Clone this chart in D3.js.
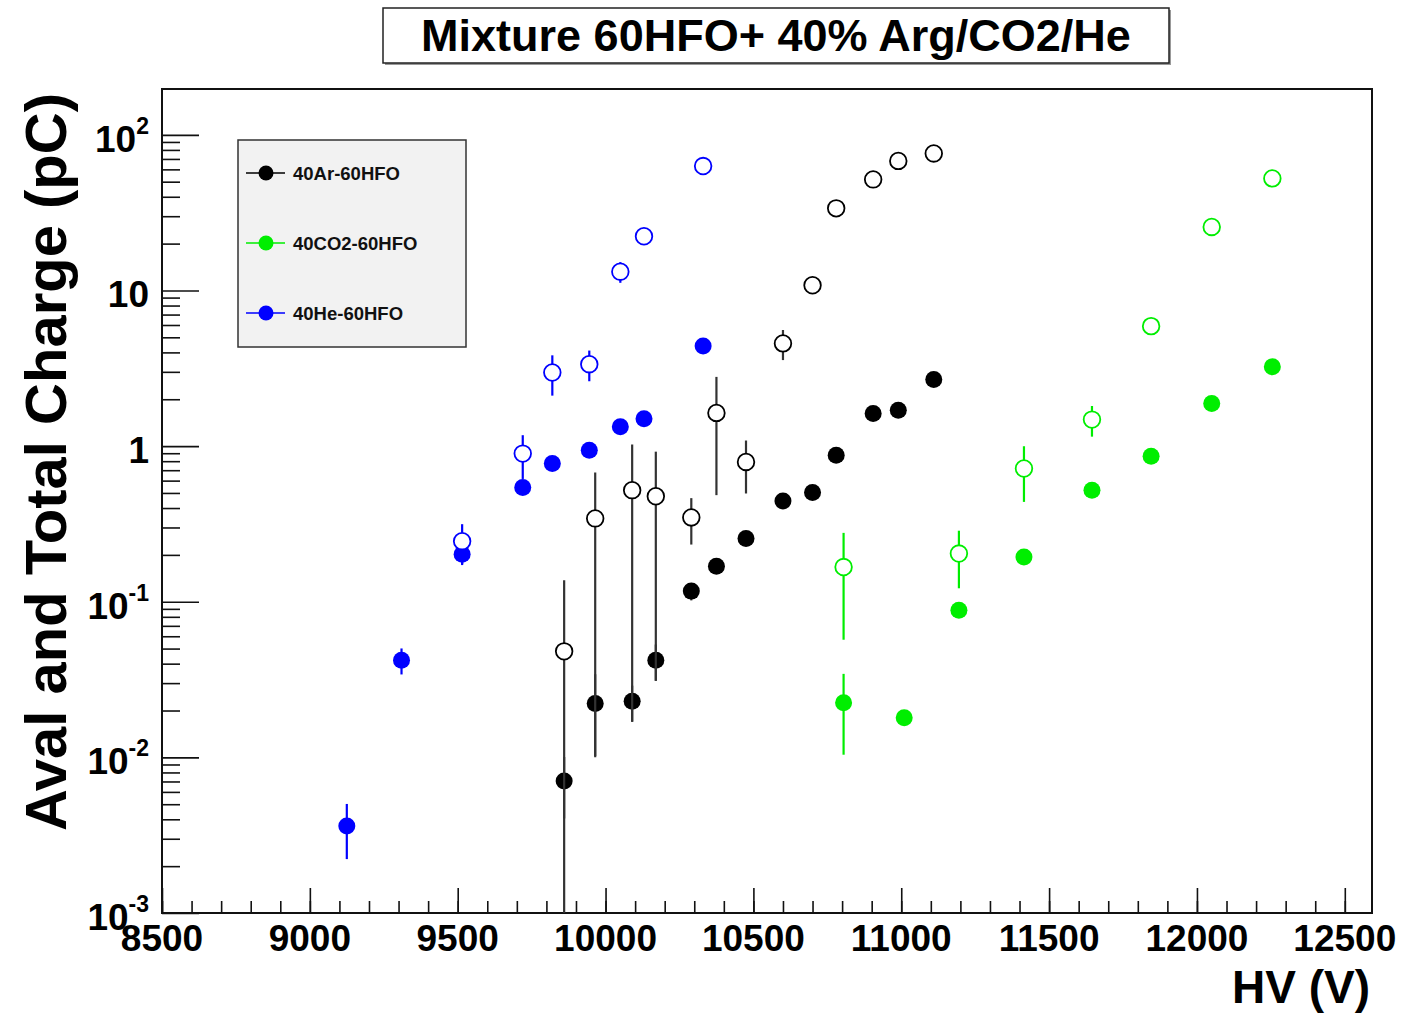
<!DOCTYPE html>
<html lang="en">
<head>
    <meta charset="UTF-8">
    <title>Mixture 60HFO+ 40% Arg/CO2/He</title>
    <script src="https://d3js.org/d3.v7.min.js"></script>
    <style>
        body { margin: 0; background: #fff; }
        text { font-family: "Liberation Sans", Arial, Helvetica, sans-serif; font-weight: bold; }
    </style>
</head>
<body>
    <svg></svg>

    <script>
        const w = 1402;
        const h = 1015;

        // 40Ar-60HFO (black)
        const arHV = [9860, 9965, 10090, 10170, 10290, 10375, 10475, 10600, 10700, 10780, 10905, 10990, 11110];
        const arAval = [0.00705, 0.0222, 0.0229, 0.0421, 0.117, 0.169, 0.255, 0.444, 0.503, 0.874, 1.62, 1.70, 2.68];
        const arAvalErr = [0.003, 0.012, 0.006, 0.011, 0.015, 0.012, 0.015, 0.02, 0.03, 0.05, 0.08, 0.08, 0.12];
        const arTotal = [0.048, 0.343, 0.521, 0.476, 0.348, 1.634, 0.791, 4.57, 10.8, 33.7, 51.7, 68, 75.9];
        const arTotalErr = [0.0895, 0.333, 0.504, 0.445, 0.115, 1.15, 0.295, 1.0, 0.8, 2, 3, 3, 3];

        // 40CO2-60HFO (green)
        const co2HV = [10805, 11010, 11195, 11415, 11645, 11845, 12050, 12255];
        const co2Aval = [0.0224, 0.018, 0.0882, 0.194, 0.521, 0.861, 1.88, 3.23];
        const co2AvalErr = [0.012, 0.002, 0.008, 0.015, 0.04, 0.05, 0.1, 0.15];
        const co2TotalHV = [10805, 11195, 11415, 11645, 11845, 12050, 12255];
        const co2Total = [0.167, 0.204, 0.718, 1.48, 5.9, 25.6, 52.5];
        const co2TotalErr = [0.11, 0.082, 0.28, 0.33, 0.5, 1.5, 2.5];

        // 40He-60HFO (blue)
        const heHV = [9125, 9310, 9515, 9720, 9820, 9945, 10050, 10130, 10330];
        const heAval = [0.00362, 0.0421, 0.202, 0.542, 0.773, 0.94, 1.33, 1.50, 4.39];
        const heAvalErr = [0.0014, 0.008, 0.03, 0.05, 0.05, 0.06, 0.08, 0.08, 0.3];
        const heTotalHV = [9515, 9720, 9820, 9945, 10050, 10130, 10330];
        const heTotal = [0.245, 0.895, 2.97, 3.36, 13.2, 22.3, 63];
        const heTotalErr = [0.07, 0.28, 0.86, 0.75, 2, 2, 4];

        const xMajor = d3.range(8500, 12501, 500);
        const xMinor = d3.range(8500, 12591, 100);
        const yExp = [-3, -2, -1, 0, 1, 2];

        const legendLabels = ["40Ar-60HFO", "40CO2-60HFO", "40He-60HFO"];
        const colors = ["#000000", "#00ee00", "#0000ff"];

        const series = [
            { hv: arHV, v: arAval, e: arAvalErr, c: 0, open: false },
            { hv: arHV, v: arTotal, e: arTotalErr, c: 0, open: true },
            { hv: co2HV, v: co2Aval, e: co2AvalErr, c: 1, open: false },
            { hv: co2TotalHV, v: co2Total, e: co2TotalErr, c: 1, open: true },
            { hv: heHV, v: heAval, e: heAvalErr, c: 2, open: false },
            { hv: heTotalHV, v: heTotal, e: heTotalErr, c: 2, open: true }
        ];

        const L = 162, R = 1372, T = 89, B = 913;

        const svg = d3.select("svg")
            .attr("width", w)
            .attr("height", h);

        const x = d3.scaleLinear().domain([8500, 12592]).range([L, R]);
        const y = d3.scaleLog().domain([1e-3, 197]).range([B, T]);

        // title box
        svg.append("rect")
            .attr("x", 385).attr("y", 10).attr("width", 786).attr("height", 55)
            .attr("fill", "#999");
        svg.append("rect")
            .attr("x", 383).attr("y", 8).attr("width", 786).attr("height", 55)
            .attr("fill", "#fff").attr("stroke", "#222").attr("stroke-width", 1.5);
        svg.append("text")
            .attr("x", 776).attr("y", 51)
            .attr("text-anchor", "middle")
            .attr("font-size", 45)
            .text("Mixture 60HFO+ 40% Arg/CO2/He");

        // x axis ticks
        svg.append("g")
            .attr("transform", `translate(0,${B})`)
            .call(d3.axisBottom(x).tickValues(xMinor).tickSize(-12).tickFormat(""))
            .call(g => g.select(".domain").remove())
            .call(g => g.selectAll("line").attr("stroke", "#111").attr("stroke-width", 1.6));

        svg.append("g")
            .attr("transform", `translate(0,${B})`)
            .call(d3.axisBottom(x).tickValues(xMajor).tickSize(-25).tickFormat(""))
            .call(g => g.select(".domain").remove())
            .call(g => g.selectAll("line").attr("stroke", "#111").attr("stroke-width", 1.6));

        svg.append("g")
            .selectAll("text")
            .data(xMajor)
            .join("text")
                .attr("x", d => x(d))
                .attr("y", 951)
                .attr("text-anchor", "middle")
                .attr("font-size", 37)
                .text(d => d);

        // y axis ticks
        const yMinor = [];
        yExp.forEach(p => {
            for (let k = 2; k <= 9; k++) {
                const v = k * Math.pow(10, p);
                if (v < 197) yMinor.push(v);
            }
        });
        const yMajor = yExp.map(p => Math.pow(10, p));

        svg.append("g")
            .attr("transform", `translate(${L},0)`)
            .call(d3.axisLeft(y).tickValues(yMinor).tickSize(-18).tickFormat(""))
            .call(g => g.select(".domain").remove())
            .call(g => g.selectAll("line").attr("stroke", "#111").attr("stroke-width", 1.6));

        svg.append("g")
            .attr("transform", `translate(${L},0)`)
            .call(d3.axisLeft(y).tickValues(yMajor).tickSize(-37).tickFormat(""))
            .call(g => g.select(".domain").remove())
            .call(g => g.selectAll("line").attr("stroke", "#111").attr("stroke-width", 1.6));

        const yl = svg.append("g")
            .selectAll("text")
            .data(yExp)
            .join("text")
                .attr("x", 149)
                .attr("y", p => y(Math.pow(10, p)) + 17)
                .attr("text-anchor", "end")
                .attr("font-size", 37);
        yl.each(function(p) {
            const t = d3.select(this);
            if (p === 0) { t.text("1"); return; }
            if (p === 1) { t.text("10"); return; }
            t.append("tspan").text("10");
            t.append("tspan").attr("dy", -18).attr("font-size", 23).text(p);
        });

        // frame
        svg.append("rect")
            .attr("x", L).attr("y", T).attr("width", R - L).attr("height", B - T)
            .attr("fill", "none").attr("stroke", "#111").attr("stroke-width", 2);

        // axis titles
        svg.append("text")
            .attr("transform", "translate(66,462) rotate(-90)")
            .attr("text-anchor", "middle")
            .attr("font-size", 58)
            .text("Aval and Total Charge (pC)");

        svg.append("text")
            .attr("x", 1370).attr("y", 1003)
            .attr("text-anchor", "end")
            .attr("font-size", 46)
            .text("HV (V)");

        // data
        svg.append("defs").append("clipPath").attr("id", "plot")
            .append("rect").attr("x", L).attr("y", T).attr("width", R - L).attr("height", B - T);

        const plot = svg.append("g").attr("clip-path", "url(#plot)");

        series.forEach(s => {
            const pts = s.hv.map((hv, i) => ({ hv: hv, v: s.v[i], e: s.e[i] }));
            const col = colors[s.c];
            const g = plot.append("g");
            g.selectAll("line")
                .data(pts)
                .join("line")
                    .attr("x1", d => x(d.hv))
                    .attr("x2", d => x(d.hv))
                    .attr("y1", d => y(d.v + d.e))
                    .attr("y2", d => d.v - d.e > 1e-4 ? y(d.v - d.e) : B + 5)
                    .attr("stroke", s.c === 0 ? "#333" : col)
                    .attr("stroke-width", 2.2);
            g.selectAll("circle")
                .data(pts)
                .join("circle")
                    .attr("cx", d => x(d.hv))
                    .attr("cy", d => y(d.v))
                    .attr("r", s.open ? 8.3 : 8.5)
                    .attr("fill", s.open ? "#fff" : col)
                    .attr("stroke", col)
                    .attr("stroke-width", s.open ? 1.8 : 0);
        });

        // legend
        svg.append("rect")
            .attr("x", 238).attr("y", 140).attr("width", 228).attr("height", 207)
            .attr("fill", "#f2f2f2").attr("stroke", "#333").attr("stroke-width", 1.5);

        const leg = svg.append("g")
            .selectAll("g")
            .data(legendLabels)
            .join("g")
                .attr("transform", (d, i) => `translate(0,${173 + i * 70})`);
        leg.append("line")
            .attr("x1", 246).attr("x2", 285)
            .attr("stroke", (d, i) => colors[i]).attr("stroke-width", 1.5);
        leg.append("circle")
            .attr("cx", 266).attr("r", 7.5)
            .attr("fill", (d, i) => colors[i]);
        leg.append("text")
            .attr("x", 293).attr("y", 7)
            .attr("font-size", 18.5)
            .attr("fill", "#111")
            .text(d => d);
    </script>
</body>
</html>
